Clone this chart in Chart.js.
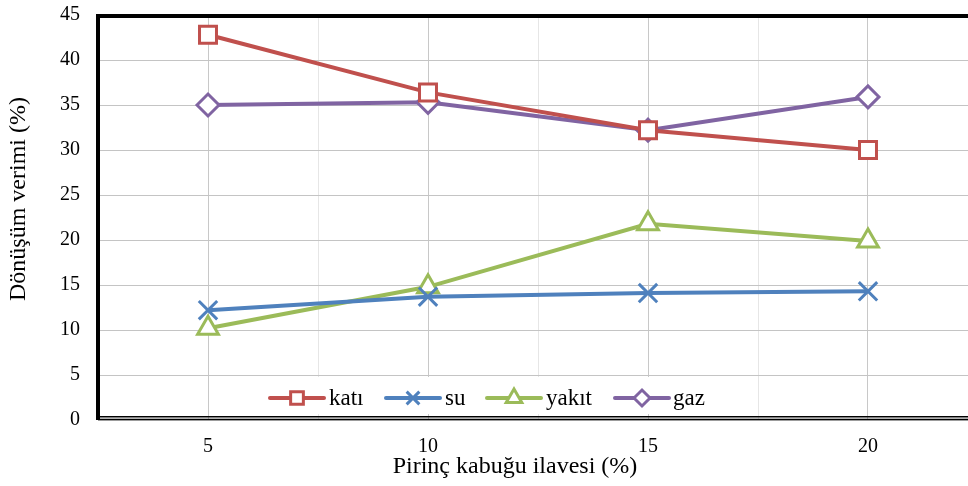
<!DOCTYPE html>
<html>
<head>
<meta charset="utf-8">
<script src="https://cdn.jsdelivr.net/npm/chart.js@4.4.1/dist/chart.umd.min.js"></script>
<style>
  html, body { margin: 0; padding: 0; background: #ffffff; }
  #wrap { width: 968px; height: 486px; }
</style>
</head>
<body>
<div id="wrap"><canvas id="c" width="968" height="486"></canvas></div>
<script>
// Rice husk addition (%) and conversion yields (%) per product
const categories = [5, 10, 15, 20];
const kati  = [42.8, 36.4, 32.2, 30.0];
const su    = [12.2, 13.7, 14.1, 14.3];
const yakit = [10.2, 14.8, 21.8, 19.9];
const gaz   = [35.0, 35.3, 32.2, 35.9];
const seriesNames = ['katı', 'su', 'yakıt', 'gaz'];
const yTickValues = [0, 5, 10, 15, 20, 25, 30, 35, 40, 45];
const xTitle = 'Pirinç kabuğu ilavesi (%)';
const yTitle = 'Dönüşüm verimi (%)';

const SERIF = '"Liberation Serif", "Times New Roman", serif';
const colors = ['#C0504D', '#4F81BD', '#9BBB59', '#8064A2'];
const styles = [
  { pointStyle: 'rect',     radius: 12, legendRadius: 9,  borderWidth: 3 },
  { pointStyle: 'crossRot', radius: 13, legendRadius: 9,  borderWidth: 3 },
  { pointStyle: 'triangle', radius: 12, legendRadius: 9,  borderWidth: 3 },
  { pointStyle: 'rectRot',  radius: 11, legendRadius: 8,  borderWidth: 3 }
];
const allSeries = [kati, su, yakit, gaz];

const datasets = allSeries.map((vals, i) => ({
  label: seriesNames[i],
  data: categories.map((c, j) => ({ x: c, y: vals[j] })),
  borderColor: colors[i],
  backgroundColor: '#ffffff',
  borderWidth: 4,
  tension: 0,
  pointStyle: styles[i].pointStyle,
  pointRadius: styles[i].radius,
  pointHoverRadius: styles[i].radius,
  pointBorderWidth: styles[i].borderWidth,
  pointBorderColor: colors[i],
  pointBackgroundColor: '#ffffff'
}));

// legend item geometry: line start/end, text start
const legendItems = [
  { x1: 270, x2: 324, tx: 329 },
  { x1: 386, x2: 440, tx: 445 },
  { x1: 487, x2: 541, tx: 546 },
  { x1: 615, x2: 669, tx: 673 }
];

const framePlugin = {
  id: 'frame',
  beforeDatasetsDraw(chart) {
    const ctx = chart.ctx;
    ctx.save();
    ctx.fillStyle = '#ffffff';
    ctx.fillRect(258, 377, 454, 37);
    ctx.restore();
  },
  afterDraw(chart) {
    const ctx = chart.ctx;
    const a = chart.chartArea;
    ctx.save();
    // top border
    ctx.fillStyle = '#000000';
    ctx.fillRect(a.left - 2, a.top - 1, a.right - a.left + 4, 4);
    // bottom double line
    ctx.fillRect(a.left, a.bottom - 4, a.right - a.left, 1.5);
    ctx.fillRect(a.left, a.bottom - 1.3, a.right - a.left, 1.5);
    // left border
    ctx.fillRect(a.left - 2, a.top - 1, 4, a.bottom - a.top + 1);

    // legend
    const ly = 398;
    legendItems.forEach((it, i) => {
      ctx.strokeStyle = colors[i];
      ctx.lineWidth = 4;
      ctx.lineCap = 'round';
      ctx.beginPath();
      ctx.moveTo(it.x1, ly);
      ctx.lineTo(it.x2, ly);
      ctx.stroke();
      ctx.fillStyle = '#ffffff';
      ctx.strokeStyle = colors[i];
      ctx.lineWidth = 3;
      ctx.lineCap = 'butt';
      Chart.helpers.drawPoint(ctx, {
        pointStyle: styles[i].pointStyle,
        radius: styles[i].legendRadius,
        rotation: 0,
        borderWidth: 3
      }, (it.x1 + it.x2) / 2, ly);
      ctx.fillStyle = '#000000';
      ctx.font = '23px ' + SERIF;
      ctx.textAlign = 'left';
      ctx.textBaseline = 'middle';
      ctx.fillText(seriesNames[i], it.tx, ly + 1);
    });

    // axis titles
    ctx.fillStyle = '#000000';
    ctx.font = '24px ' + SERIF;
    ctx.textAlign = 'center';
    ctx.textBaseline = 'middle';
    ctx.fillText(xTitle, 515, 467);
    ctx.translate(19, 199);
    ctx.rotate(-Math.PI / 2);
    ctx.fillText(yTitle, 0, 0);
    ctx.restore();
  }
};

new Chart(document.getElementById('c'), {
  type: 'line',
  data: { datasets },
  options: {
    responsive: false,
    animation: false,
    devicePixelRatio: 1,
    layout: { autoPadding: false, padding: { top: 15, left: 0, right: 0, bottom: 0 } },
    plugins: { legend: { display: false }, tooltip: { enabled: false } },
    scales: {
      x: {
        type: 'linear',
        min: 2.5,
        max: 2.5 + 870 / 44,
        afterFit(scale) {
          scale.height = 66;
          scale.paddingLeft = 0;
          scale.paddingRight = 0;
        },
        afterBuildTicks(scale) {
          scale.ticks = [5, 7.5, 10, 12.5, 15, 17.5, 20].map(v => ({ value: v }));
        },
        border: { display: false },
        grid: {
          drawTicks: false,
          lineWidth: 1,
          color: (c) => (c.tick && c.tick.value % 5 === 0) ? '#c8c8c8' : '#e6e6e6'
        },
        ticks: {
          padding: 15,
          color: '#000000',
          font: { family: SERIF, size: 20 },
          autoSkip: false,
          maxRotation: 0,
          callback: (v) => (v % 5 === 0 ? String(v) : '')
        }
      },
      y: {
        min: 0,
        max: 45,
        afterFit(scale) {
          scale.width = 98;
          scale.paddingTop = 0;
          scale.paddingBottom = 0;
        },
        afterBuildTicks(scale) {
          scale.ticks = yTickValues.map(v => ({ value: v }));
        },
        border: { display: false },
        grid: { drawTicks: false, color: '#c4c4c4', lineWidth: 1 },
        ticks: {
          padding: 18,
          color: '#000000',
          font: { family: SERIF, size: 20 }
        }
      }
    }
  },
  plugins: [framePlugin]
});
</script>
</body>
</html>
